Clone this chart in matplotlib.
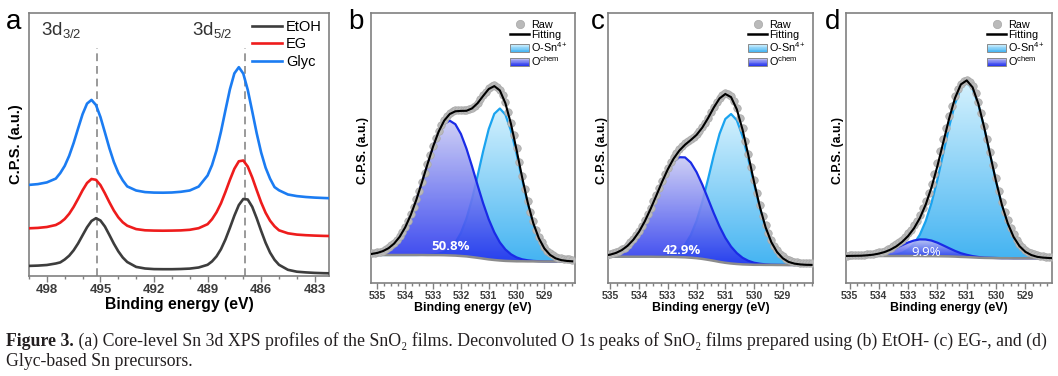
import numpy as np
import matplotlib
matplotlib.use("Agg")
import matplotlib.pyplot as plt
import matplotlib.ticker as mticker
from matplotlib.colors import LinearSegmentedColormap
from matplotlib.patches import Rectangle, PathPatch
from matplotlib.path import Path
from matplotlib.lines import Line2D
from matplotlib.legend_handler import HandlerBase

plt.rcParams['font.family'] = ['Liberation Sans', 'DejaVu Sans']
plt.rcParams['mathtext.fontset'] = 'custom'
plt.rcParams['mathtext.rm'] = 'Liberation Sans'
plt.rcParams['mathtext.it'] = 'Liberation Sans:italic'
plt.rcParams['mathtext.bf'] = 'Liberation Sans:bold'
plt.rcParams['mathtext.default'] = 'regular'

# ---------------- data: (a) Sn 3d ----------------
energy_a = [499.0, 498.5, 498.0, 497.5, 497.25, 497.0, 496.75, 496.5, 496.25, 496.0,
            495.75, 495.5, 495.25, 495.0, 494.75, 494.5, 494.25, 494.0, 493.75, 493.5,
            493.0, 492.5, 492.0, 491.5, 491.0, 490.5, 490.0, 489.5, 489.0, 488.75,
            488.5, 488.25, 488.0, 487.75, 487.5, 487.25, 487.0, 486.75, 486.5, 486.25,
            486.0, 485.75, 485.5, 485.25, 485.0, 484.5, 484.0, 483.5, 483.0, 482.5,
            482.2]
etoh = [10.1, 10.4, 11.0, 12.5, 13.6, 16.5, 20.3, 25.7, 32.6, 40.7,
        48.7, 55.0, 57.8, 55.5, 49.5, 41.1, 32.4, 24.7, 18.5, 14.0,
        9.1, 7.5, 6.9, 6.8, 6.8, 7.0, 7.4, 8.5, 11.2, 14.6,
        19.6, 26.8, 36.5, 48.1, 60.3, 70.9, 77.0, 76.5, 69.2, 57.8,
        45.1, 33.2, 23.4, 16.2, 11.2, 6.2, 4.3, 3.6, 3.1, 2.8,
        2.7]
eg = [47.7, 48.1, 49.0, 51.0, 53.4, 57.0, 62.2, 69.1, 77.2, 85.7,
      93.0, 97.0, 96.2, 90.9, 82.7, 73.8, 65.5, 58.7, 53.7, 50.3,
      46.9, 45.7, 45.4, 45.3, 45.4, 45.6, 46.2, 47.8, 51.8, 56.8,
      63.7, 72.7, 84.0, 96.1, 107.2, 114.7, 115.5, 109.4, 98.6, 85.9,
      73.6, 63.2, 55.3, 49.7, 45.7, 42.7, 41.4, 40.8, 40.4, 40.1,
      40.0]
glyc = [91.1, 91.9, 93.6, 97.4, 102.9, 110.1, 120.2, 133.0, 147.6, 161.8,
        172.4, 176.1, 171.0, 159.0, 143.6, 127.9, 114.1, 103.3, 95.6, 89.6,
        85.5, 83.9, 83.4, 83.3, 83.5, 84.2, 85.5, 89.4, 100.5, 110.9,
        125.6, 144.3, 165.7, 186.6, 202.6, 208.8, 202.4, 186.1, 164.7, 142.8,
        123.5, 108.3, 97.3, 88.9, 85.7, 81.5, 79.9, 79.0, 78.4, 78.0,
        77.8]
sn_series = ["EtOH", "EG", "Glyc"]
peak_pos = [495.2, 486.9]

# ---------------- data: (b)-(d) O 1s ----------------
energy_o = [535.2, 535.0, 534.8, 534.6, 534.4, 534.2, 534.0, 533.8, 533.6, 533.4,
            533.2, 533.0, 532.8, 532.6, 532.4, 532.2, 532.0, 531.8, 531.6, 531.4,
            531.2, 531.0, 530.8, 530.6, 530.4, 530.2, 530.0, 529.8, 529.6, 529.4,
            529.2, 529.0, 528.8, 528.6, 528.4, 528.2, 528.0]
energy_raw = [535.2, 535.1, 535.0, 534.9, 534.8, 534.7, 534.6, 534.5, 534.4, 534.3,
              534.2, 534.1, 534.0, 533.9, 533.8, 533.7, 533.6, 533.5, 533.4, 533.3,
              533.2, 533.1, 533.0, 532.9, 532.8, 532.7, 532.6, 532.5, 532.4, 532.3,
              532.2, 532.1, 532.0, 531.9, 531.8, 531.7, 531.6, 531.5, 531.4, 531.3,
              531.2, 531.1, 531.0, 530.9, 530.8, 530.7, 530.6, 530.5, 530.4, 530.3,
              530.2, 530.1, 530.0, 529.9, 529.8, 529.7, 529.6, 529.5, 529.4, 529.3,
              529.2, 529.1, 529.0, 528.9, 528.8, 528.7, 528.6, 528.5, 528.4, 528.3,
              528.2, 528.1, 528.0]

base_b = [28.0, 28.0, 28.0, 28.0, 28.0, 28.0, 28.0, 28.0, 28.0, 28.0,
          27.9, 27.9, 27.9, 27.8, 27.6, 27.4, 27.0, 26.6, 25.9, 25.2,
          24.4, 23.6, 23.0, 22.5, 22.1, 21.9, 21.7, 21.7, 21.6, 21.6,
          21.5, 21.5, 21.5, 21.5, 21.5, 21.5, 21.5]
osn_b = [28.0, 28.0, 28.0, 28.0, 28.0, 28.0, 28.0, 28.0, 28.0, 28.1,
         28.1, 28.5, 29.3, 31.0, 34.3, 40.3, 50.0, 64.4, 83.8, 107.2,
         131.8, 153.9, 169.2, 174.5, 168.3, 152.2, 129.2, 103.7, 79.5, 59.4,
         44.5, 34.4, 28.2, 24.7, 22.9, 22.1, 21.7]
ochem_b = [29.1, 30.1, 31.9, 34.8, 39.4, 46.2, 55.7, 68.1, 83.3, 100.6,
           118.7, 135.8, 149.9, 159.2, 162.3, 158.8, 149.1, 134.4, 116.7, 97.8,
           79.7, 63.7, 50.7, 40.6, 33.5, 28.7, 25.6, 23.7, 22.7, 22.1,
           21.8, 21.6, 21.5, 21.5, 21.5, 21.5, 21.5]
raw_b = [29.6, 30.1, 30.8, 31.5, 32.5, 33.9, 35.6, 37.7, 40.2, 43.3,
         47.0, 51.3, 56.3, 62.2, 68.8, 76.1, 84.0, 92.5, 101.3, 110.3,
         119.4, 128.4, 137.0, 145.1, 152.4, 158.5, 163.5, 167.4, 170.2, 172.0,
         173.0, 173.2, 173.1, 172.8, 172.8, 173.6, 175.0, 177.3, 180.2, 183.8,
         187.6, 191.4, 194.6, 196.8, 197.6, 196.5, 193.4, 188.0, 180.6, 171.2,
         160.2, 147.8, 134.6, 120.9, 107.3, 94.4, 82.3, 71.3, 61.6, 53.4,
         46.4, 40.6, 36.0, 32.5, 29.8, 27.8, 26.3, 25.3, 24.6, 24.1,
         23.8, 23.6, 23.4]

base_c = [26.3, 26.3, 26.3, 26.3, 26.3, 26.3, 26.3, 26.3, 26.3, 26.2,
          26.2, 26.2, 26.1, 25.9, 25.7, 25.3, 24.8, 24.1, 23.2, 22.2,
          21.1, 20.2, 19.5, 19.0, 18.6, 18.4, 18.2, 18.2, 18.1, 18.1,
          18.0, 18.0, 18.0, 18.0, 18.0, 18.0, 18.0]
osn_c = [26.3, 26.3, 26.3, 26.3, 26.3, 26.3, 26.3, 26.3, 26.4, 26.4,
         26.8, 27.6, 29.2, 32.5, 38.4, 47.9, 62.0, 81.1, 103.9, 127.9,
         149.2, 164.0, 169.0, 162.8, 146.7, 124.1, 98.9, 75.2, 55.3, 40.7,
         30.7, 24.6, 21.1, 19.4, 18.6, 18.2, 18.1]
ochem_c = [27.4, 28.4, 30.1, 32.9, 37.2, 43.2, 51.3, 61.7, 73.9, 87.2,
           100.5, 112.3, 121.2, 125.8, 125.6, 120.4, 110.9, 98.4, 84.2, 69.8,
           56.5, 45.2, 36.4, 29.9, 25.2, 22.2, 20.3, 19.3, 18.6, 18.3,
           18.2, 18.1, 18.0, 18.0, 18.0, 18.0, 18.0]
raw_c = [27.8, 28.3, 29.0, 29.8, 30.8, 32.0, 33.6, 35.5, 37.9, 40.7,
         44.0, 47.8, 52.2, 57.1, 62.6, 68.6, 75.0, 81.7, 88.5, 95.5,
         102.3, 108.8, 115.0, 120.7, 125.8, 130.2, 134.0, 137.1, 139.8, 142.1,
         144.3, 146.5, 149.0, 152.2, 156.0, 160.5, 165.4, 170.7, 176.0, 181.0,
         185.2, 188.3, 189.8, 189.3, 186.8, 181.9, 174.8, 165.5, 154.6, 142.4,
         129.4, 116.0, 102.6, 89.9, 78.0, 67.2, 57.6, 49.6, 42.8, 37.3,
         32.8, 29.3, 26.6, 24.5, 23.0, 21.9, 21.2, 20.7, 20.4, 20.2,
         20.0, 19.9, 19.8]

base_d = [27.0, 27.0, 27.0, 27.0, 27.0, 27.0, 27.0, 27.0, 27.0, 27.0,
          27.0, 27.0, 27.0, 27.0, 26.9, 26.9, 26.8, 26.7, 26.6, 26.4,
          26.1, 25.9, 25.6, 25.3, 25.1, 25.0, 24.9, 24.8, 24.8, 24.7,
          24.7, 24.7, 24.7, 24.7, 24.7, 24.7, 24.7]
osn_d = [27.0, 27.0, 27.0, 27.0, 27.0, 27.0, 27.1, 27.3, 27.7, 28.5,
         30.3, 33.5, 39.2, 48.3, 61.8, 80.3, 103.5, 129.8, 156.3, 179.3,
         194.9, 200.3, 194.4, 178.2, 154.8, 128.1, 101.6, 78.2, 59.7, 46.0,
         36.9, 31.2, 28.0, 26.2, 25.4, 25.0, 24.8]
ochem_d = [27.0, 27.1, 27.2, 27.3, 27.7, 28.3, 29.3, 30.7, 32.7, 35.2,
           37.9, 40.5, 42.5, 43.6, 43.5, 42.4, 40.3, 37.6, 34.8, 32.1,
           29.8, 28.2, 26.9, 26.0, 25.4, 25.2, 25.0, 24.8, 24.8, 24.7,
           24.7, 24.7, 24.7, 24.7, 24.7, 24.7, 24.7]
raw_d = [27.4, 27.5, 27.6, 27.7, 27.8, 27.9, 28.1, 28.3, 28.6, 29.0,
         29.4, 29.9, 30.6, 31.4, 32.4, 33.6, 35.0, 36.7, 38.6, 40.8,
         43.4, 46.3, 49.6, 53.3, 57.6, 62.5, 68.2, 74.7, 82.0, 90.3,
         99.4, 109.5, 120.4, 131.9, 143.6, 155.4, 166.8, 177.3, 186.6, 194.1,
         199.5, 202.4, 203.0, 201.1, 196.8, 189.8, 180.6, 169.6, 157.4, 144.4,
         131.0, 117.6, 104.6, 92.4, 81.2, 71.3, 62.6, 55.0, 48.6, 43.4,
         39.2, 35.8, 33.2, 31.3, 29.8, 28.6, 27.8, 27.2, 26.8, 26.5,
         26.2, 26.0, 25.8]

chem_share = ["50.8%", "42.9%", "9.9%"]
share_pos = [(532.36, 36), (532.5, 33), (532.4, 31)]
o_ticks = [535, 534, 533, 532, 531, 530, 529]

# ---------------- styling ----------------
W, H = 1058, 376
spine_col = '#808080'
tick_col = '#3c3c3c'
sn_colors = ['#3d3d3d', '#ee1c1c', '#1b7cf2']
osn_line, osn_top, osn_bot = '#1aa3ef', '#d4f1fd', '#45b4f2'
chem_line, chem_top, chem_bot = '#1a2be6', '#cacbf4', '#2534ee'


def px_axes(l, r, t, b):
    return [l / W, 1 - b / H, (r - l) / W, (b - t) / H]


def style_axes(ax, fs):
    for s in ax.spines.values():
        s.set_color(spine_col)
        s.set_linewidth(1.2)
    ax.set_yticks([])
    ax.tick_params(axis='x', direction='out', length=4, width=1, color=spine_col,
                   labelsize=fs, labelcolor=tick_col, pad=1.5)
    ax.tick_params(axis='x', which='minor', direction='out', length=2, width=1,
                   color=spine_col)
    for lab in ax.get_xticklabels():
        lab.set_fontweight('bold')


def gradient_fill(ax, x, y, base, top, bot, alpha, z):
    x = np.asarray(x)
    y = np.asarray(y)
    base = np.asarray(base)
    verts = np.column_stack([np.r_[x, x[::-1]], np.r_[y, base[::-1]]])
    clip = PathPatch(Path(verts), facecolor='none', edgecolor='none')
    ax.add_patch(clip)
    cmap = LinearSegmentedColormap.from_list('g', [bot, top])
    im = ax.imshow(np.linspace(0, 1, 256)[:, None], cmap=cmap, aspect='auto',
                   origin='lower', alpha=alpha, zorder=z, interpolation='bilinear',
                   extent=[x.min(), x.max(), base.min(), y.max()])
    im.set_clip_path(clip)


class GradientHandler(HandlerBase):
    def __init__(self, top, bot):
        super().__init__()
        self.top, self.bot = top, bot

    def create_artists(self, legend, orig_handle, xdescent, ydescent,
                       width, height, fontsize, trans):
        cmap = LinearSegmentedColormap.from_list('g', [self.bot, self.top])
        n = 10
        arts = []
        for k in range(n):
            arts.append(Rectangle((-xdescent, -ydescent + height * k / n), width,
                                  height / n * 1.05, facecolor=cmap((k + 0.5) / n),
                                  edgecolor='none', transform=trans))
        arts.append(Rectangle((-xdescent, -ydescent), width, height, facecolor='none',
                              edgecolor='#8a8a8a', lw=0.7, transform=trans))
        return arts


fig = plt.figure(figsize=(W / 100, H / 100), dpi=100)

# ---------------- panel a ----------------
ax = fig.add_axes(px_axes(29, 329, 13, 276))
for name, vals, col in zip(sn_series, [etoh, eg, glyc], sn_colors):
    ax.plot(energy_a, vals, color=col, lw=1.9, label=name, zorder=3)
for p in peak_pos:
    ax.plot([p, p], [0, 228], color='#9a9a9a', lw=1.4, ls=(0, (4, 2.5)), zorder=2)
ax.set_xlim(499.0, 482.2)
ax.set_ylim(0, 263)
ax.xaxis.set_major_locator(mticker.MultipleLocator(3))
ax.xaxis.set_minor_locator(mticker.MultipleLocator(1))
style_axes(ax, 9.5)
ax.set_xlabel("Binding energy (eV)", fontsize=11.3, fontweight='bold', labelpad=1)
ax.set_ylabel("C.P.S. (a.u.)", fontsize=10.5, fontweight='bold', labelpad=4)
ax.text(497.2, 246, "3d$_{3/2}$", fontsize=13.5, color='#333333', ha='center', va='center')
ax.text(488.75, 246, "3d$_{5/2}$", fontsize=13.5, color='#333333', ha='center', va='center')
ax.legend(loc='upper right', bbox_to_anchor=(1.0, 1.0), frameon=False, fontsize=10.5,
          handlelength=2.1, handletextpad=0.25, labelspacing=0.22, borderaxespad=0.1)

# ---------------- panels b-d ----------------
o_panels = [
    (px_axes(371, 575, 13, 283), (535.23, 527.9), base_b, osn_b, ochem_b, raw_b),
    (px_axes(608, 813, 13, 283), (535.08, 527.95), base_c, osn_c, ochem_c, raw_c),
    (px_axes(846, 1052, 13, 283), (535.12, 528.09), base_d, osn_d, ochem_d, raw_d),
]
ylab_x = [363, 602, 838]
for i, (rect, xl, base, osn, ochem, raw) in enumerate(o_panels):
    ax = fig.add_axes(rect)
    base = np.asarray(base)
    osn = np.asarray(osn)
    ochem = np.asarray(ochem)
    fit = osn + ochem - base
    gradient_fill(ax, energy_o, osn, base, osn_top, osn_bot, 1.0, 1)
    ax.plot(energy_o, osn, color=osn_line, lw=1.6, zorder=2)
    gradient_fill(ax, energy_o, ochem, base, chem_top, chem_bot, 0.9, 3)
    ax.plot(energy_o, ochem, color=chem_line, lw=1.6, zorder=4)
    ax.plot(energy_o, base, color='#8c8c8c', lw=1.8, zorder=5)
    ax.plot(energy_raw, raw, 'o', ms=5.4, color='#bababa', mec='#a8a8a8', mew=0.5, zorder=6)
    ax.plot(energy_o, fit, color='black', lw=1.5, zorder=7)
    sx, sy = share_pos[i]
    ax.text(sx, sy, chem_share[i], color='white', fontsize=9.5,
            fontweight='bold' if i < 2 else 'normal', ha='center', va='center',
            family=['Open Sans', 'DejaVu Sans'], zorder=8)
    ax.set_xlim(*xl)
    ax.set_ylim(0, 270)
    ax.xaxis.set_major_locator(mticker.FixedLocator(o_ticks))
    ax.xaxis.set_minor_locator(mticker.MultipleLocator(0.25))
    style_axes(ax, 7.5)
    ax.set_xlabel("Binding energy (eV)", fontsize=8.9, fontweight='bold', labelpad=1)
    fig.text(ylab_x[i] / W, 1 - 150 / H, "C.P.S. (a.u.)", rotation=90, fontsize=8.8,
             fontweight='bold', ha='center', va='center')
    h_raw = Line2D([], [], ls='none', marker='o', ms=6, color='#bababa', mec='#a8a8a8', mew=0.5)
    h_fit = Line2D([], [], color='black', lw=1.8)
    h_osn = Rectangle((0, 0), 1, 1)
    h_chem = Rectangle((0, 0), 1, 1)
    ax.legend([h_raw, h_fit, h_osn, h_chem],
              ["Raw", "Fitting", "O-Sn$^{4+}$", "O$^{chem}$"],
              handler_map={h_osn: GradientHandler(osn_top, osn_bot),
                           h_chem: GradientHandler(chem_top, chem_bot)},
              loc='upper right', bbox_to_anchor=(1.0, 1.0), frameon=False, fontsize=7.8,
              handlelength=1.8, handleheight=0.7, handletextpad=0.15,
              labelspacing=0.0, borderaxespad=0.25)

# panel letters
for letter, (lx, ly) in zip("abcd", [(14, 22), (356, 22), (598, 22), (833, 22)]):
    fig.text(lx / W, 1 - ly / H, letter, fontsize=20, ha='center', va='center')

# ---------------- caption ----------------
cap_family = ['Liberation Serif', 'DejaVu Serif']
line1 = (" (a) Core-level Sn 3d XPS profiles of the SnO\u2082 films. Deconvoluted O 1s peaks "
         "of SnO\u2082 films prepared using (b) EtOH- (c) EG-, and (d)")
line2 = "Glyc-based Sn precursors."
renderer = fig.canvas.get_renderer()
fs = 11.0
t_head = fig.text(6 / W, 1 - 346 / H, "Figure 3.", fontsize=fs, fontweight='bold',
                  family=cap_family, va='baseline', color='#231f20')
t_rest = fig.text(0, 1 - 346 / H, line1, fontsize=fs, family=cap_family,
                  va='baseline', color='#231f20')
w_total = (t_head.get_window_extent(renderer).width
           + t_rest.get_window_extent(renderer).width)
fs = fs * (1043 - 6) / w_total
t_head.set_fontsize(fs)
t_rest.set_fontsize(fs)
w_head = t_head.get_window_extent(renderer).width
t_rest.set_x((6 + w_head) / W)
fig.text(6 / W, 1 - 366 / H, line2, fontsize=fs, family=cap_family, va='baseline',
         color='#231f20')

fig.savefig("out.png", dpi=100)
